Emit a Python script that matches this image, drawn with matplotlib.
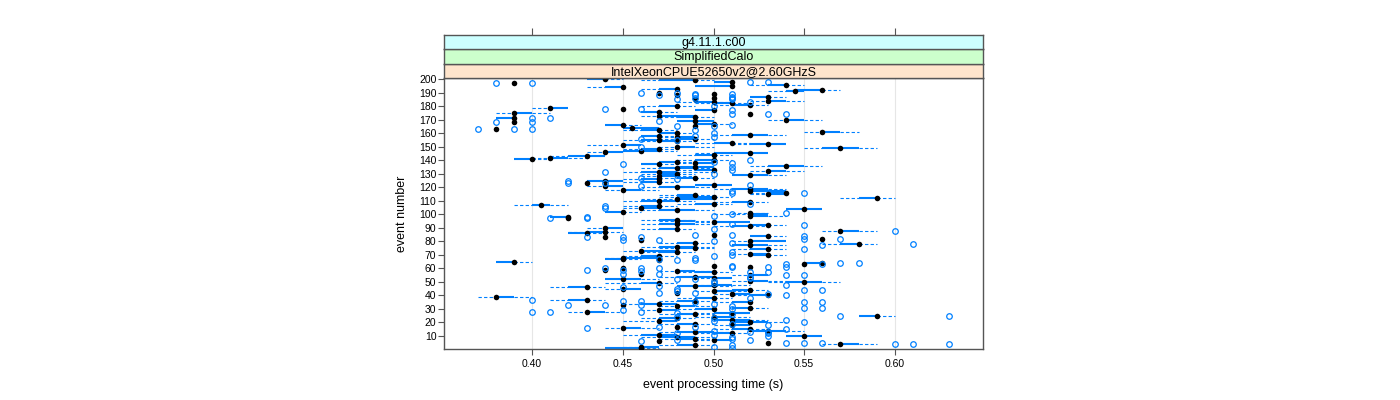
import matplotlib
matplotlib.use("Agg")
import matplotlib.pyplot as plt

plt.rcParams['font.family'] = ['Liberation Sans', 'DejaVu Sans']

# ---------------- data (seconds) ----------------
events = list(range(1, 201))

med = [.46,.46,.49,.57,.53,.47,.50,.49,.48,.55,
       .47,.51,.49,.53,.52,.45,.48,.51,.49,.52,
       .47,.51,.48,.50,.59,.49,.51,.43,.47,.50,
       .52,.48,.45,.47,.52,.49,.43,.50,.38,.53,
       .51,.48,.50,.52,.45,.43,.49,.50,.47,.55,
       .52,.45,.50,.49,.52,.46,.50,.48,.44,.45,
       .52,.50,.55,.56,.39,.47,.45,.45,.47,.53,
       .52,.48,.46,.53,.49,.48,.52,.58,.49,.52,
       .46,.56,.44,.53,.50,.43,.44,.57,.48,.44,
       .52,.53,.48,.50,.48,.48,.42,.42,.52,.52,
       .52,.45,.48,.55,.46,.47,.405,.50,.52,.47,
       .48,.59,.50,.49,.53,.54,.52,.45,.52,.48,
       .44,.50,.43,.47,.44,.47,.49,.47,.52,.48,
       .47,.53,.50,.48,.49,.54,.47,.49,.48,.50,
       .40,.41,.43,.50,.52,.44,.46,.47,.57,.48,
       .45,.53,.51,.48,.47,.49,.48,.47,.52,.48,
       .56,.47,.38,.455,.49,.45,.50,.39,.49,.54,
       .39,.49,.47,.52,.39,.47,.50,.45,.41,.48,
       .52,.51,.50,.53,.49,.50,.53,.48,.50,.47,
       .545,.56,.48,.45,.51,.54,.39,.51,.49,.44]

q1 = [.44,.46,.48,.57,.53,.47,.50,.48,.47,.54,
      .46,.50,.48,.52,.51,.45,.48,.51,.48,.51,
      .47,.50,.47,.50,.58,.48,.50,.43,.47,.49,
      .51,.48,.45,.46,.51,.48,.42,.49,.38,.52,
      .51,.48,.50,.51,.45,.42,.48,.50,.46,.54,
      .52,.44,.50,.48,.52,.46,.49,.48,.44,.45,
      .52,.50,.55,.55,.38,.47,.44,.45,.46,.52,
      .52,.47,.46,.52,.48,.47,.51,.57,.48,.52,
      .46,.56,.44,.52,.50,.42,.43,.57,.47,.44,
      .51,.52,.47,.50,.48,.47,.42,.41,.52,.52,
      .52,.44,.47,.54,.46,.46,.40,.49,.51,.46,
      .48,.58,.48,.48,.53,.53,.52,.45,.51,.47,
      .44,.49,.43,.46,.43,.46,.48,.47,.51,.47,
      .46,.53,.49,.47,.48,.53,.46,.49,.47,.49,
      .39,.41,.42,.49,.50,.44,.45,.46,.56,.48,
      .45,.52,.50,.47,.46,.48,.48,.46,.51,.47,
      .56,.46,.38,.45,.49,.44,.49,.39,.48,.54,
      .38,.48,.47,.52,.39,.46,.49,.45,.41,.47,
      .51,.50,.49,.53,.49,.50,.52,.48,.50,.47,
      .54,.545,.47,.44,.49,.53,.39,.50,.47,.43]

q3 = [.46,.47,.49,.58,.53,.47,.51,.49,.49,.56,
      .48,.51,.50,.54,.52,.46,.48,.52,.49,.53,
      .48,.52,.48,.51,.59,.49,.52,.44,.48,.50,
      .52,.49,.45,.48,.52,.49,.43,.50,.39,.53,
      .52,.48,.51,.52,.46,.43,.50,.51,.47,.56,
      .53,.46,.51,.50,.53,.46,.50,.49,.44,.45,
      .52,.50,.55,.56,.39,.47,.45,.47,.47,.53,
      .53,.48,.48,.53,.49,.49,.53,.58,.49,.54,
      .46,.56,.44,.53,.50,.43,.44,.58,.48,.45,
      .52,.53,.49,.52,.49,.48,.42,.42,.53,.53,
      .52,.45,.49,.56,.47,.47,.41,.50,.52,.48,
      .50,.59,.50,.49,.54,.54,.54,.46,.53,.49,
      .45,.51,.43,.47,.45,.47,.49,.48,.53,.48,
      .48,.54,.50,.49,.50,.55,.47,.50,.48,.50,
      .40,.42,.44,.50,.53,.45,.47,.47,.58,.49,
      .46,.54,.51,.48,.47,.49,.49,.47,.53,.48,
      .57,.47,.38,.47,.49,.45,.50,.39,.50,.55,
      .39,.49,.49,.52,.40,.47,.50,.45,.42,.48,
      .52,.51,.50,.54,.49,.50,.53,.48,.50,.47,
      .55,.56,.48,.45,.51,.54,.39,.51,.49,.44]

whisker_lo = [.44,.45,.47,.56,.53,.47,.49,.47,.46,.54,
              .45,.49,.47,.52,.50,.44,.48,.50,.47,.51,
              .45,.50,.46,.49,.58,.47,.49,.42,.46,.48,
              .51,.47,.45,.45,.50,.47,.41,.48,.37,.51,
              .50,.48,.49,.50,.44,.41,.48,.49,.44,.53,
              .51,.44,.49,.47,.51,.46,.48,.47,.44,.45,
              .52,.50,.55,.55,.38,.47,.44,.44,.45,.52,
              .51,.46,.45,.51,.47,.46,.51,.56,.47,.51,
              .46,.56,.44,.52,.50,.42,.42,.56,.46,.43,
              .50,.52,.46,.49,.47,.46,.42,.41,.52,.50,
              .51,.44,.46,.54,.45,.45,.39,.48,.50,.45,
              .46,.57,.47,.47,.52,.52,.52,.44,.50,.46,
              .43,.49,.43,.45,.43,.45,.47,.46,.51,.46,
              .45,.52,.48,.46,.47,.52,.46,.48,.47,.48,
              .39,.40,.41,.48,.49,.43,.45,.45,.55,.47,
              .43,.51,.49,.46,.45,.47,.47,.46,.50,.47,
              .55,.45,.38,.45,.49,.44,.49,.39,.48,.53,
              .38,.47,.46,.52,.38,.46,.49,.45,.40,.46,
              .50,.49,.48,.52,.49,.50,.52,.48,.50,.47,
              .53,.54,.46,.43,.49,.52,.39,.50,.46,.43]

whisker_hi = [.47,.47,.50,.59,.53,.47,.51,.50,.50,.56,
              .48,.52,.51,.55,.53,.47,.48,.52,.50,.54,
              .48,.53,.49,.52,.60,.50,.52,.45,.48,.50,
              .53,.50,.45,.48,.52,.50,.44,.51,.40,.53,
              .52,.48,.52,.53,.46,.44,.51,.52,.48,.57,
              .54,.47,.51,.50,.53,.46,.51,.50,.44,.45,
              .52,.50,.55,.56,.40,.47,.46,.47,.48,.54,
              .53,.49,.48,.54,.50,.50,.54,.59,.50,.54,
              .46,.56,.44,.54,.50,.44,.45,.59,.49,.45,
              .53,.54,.50,.52,.50,.49,.42,.42,.54,.53,
              .53,.46,.50,.56,.47,.48,.42,.51,.53,.49,
              .50,.60,.51,.50,.54,.54,.54,.47,.54,.50,
              .45,.51,.43,.48,.45,.47,.50,.49,.54,.49,
              .50,.55,.50,.50,.50,.56,.48,.50,.49,.51,
              .41,.43,.44,.51,.53,.45,.48,.48,.59,.50,
              .46,.54,.52,.49,.47,.50,.49,.48,.54,.49,
              .58,.48,.38,.47,.49,.46,.51,.39,.50,.56,
              .39,.50,.49,.52,.41,.48,.50,.45,.42,.49,
              .53,.52,.51,.55,.49,.50,.54,.48,.50,.47,
              .55,.57,.48,.45,.51,.55,.39,.51,.50,.45]

outliers = {1: [.51], 2: [.50], 3: [.51], 4: [.60, .61, .63], 5: [.54, .55, .56],
            6: [.46], 7: [.48, .52], 8: [.51], 9: [.51], 10: [.53], 11: [.50],
            12: [.48, .53], 13: [.52, .53], 14: [.50], 15: [.54], 16: [.43],
            17: [.47, .49], 18: [.53], 19: [.51], 20: [.55], 21: [.50], 22: [.54],
            23: [.50], 24: [.48], 25: [.57, .63], 26: [.51], 27: [.48],
            28: [.40, .41, .46], 29: [.45], 30: [.51], 31: [.55, .56], 32: [.51],
            33: [.42, .44, .46], 34: [.50], 35: [.49, .55, .56], 36: [.45, .46],
            37: [.40], 38: [.52], 40: [.54], 41: [.53], 42: [.47, .49], 43: [.48],
            44: [.55, .56], 45: [.48], 46: [.45], 47: [.47], 48: [.54], 49: [.50],
            51: [.50], 52: [.48, .49], 53: [.52], 54: [.52], 55: [.54, .55],
            56: [.45, .47], 57: [.52, .53], 58: [.46], 59: [.43, .45],
            60: [.44, .46, .47], 61: [.51, .53, .54], 62: [.51], 63: [.54, .56],
            64: [.57, .58], 66: [.48, .49], 67: [.47], 68: [.49], 69: [.50],
            70: [.51], 72: [.51], 74: [.55], 77: [.56], 78: [.61], 79: [.51],
            80: [.50], 81: [.45, .47], 82: [.55, .57], 83: [.43, .45, .46], 84: [.55],
            85: [.49, .51], 88: [.60], 89: [.50], 92: [.55], 93: [.51], 97: [.41, .43],
            98: [.43], 99: [.50], 100: [.51], 101: [.54], 105: [.44], 106: [.44],
            108: [.52], 116: [.51, .55], 117: [.51], 121: [.46], 122: [.52],
            123: [.42, .44], 125: [.42], 126: [.48], 127: [.46], 130: [.50], 131: [.44],
            133: [.51], 135: [.51], 137: [.45], 138: [.51], 139: [.50], 140: [.52],
            150: [.46], 155: [.48], 156: [.46], 157: [.50], 158: [.49], 160: [.50],
            162: [.49], 163: [.37, .39, .40], 165: [.48, .50], 166: [.51],
            168: [.38, .40], 169: [.47], 171: [.40, .41], 174: [.51, .53, .54],
            177: [.51], 178: [.44, .46], 180: [.50], 183: [.52], 185: [.48, .51],
            186: [.49, .51], 187: [.51], 188: [.47, .49], 189: [.49, .51],
            190: [.46, .48], 197: [.38, .40], 198: [.52, .53]}

xticks = [0.40, 0.45, 0.50, 0.55, 0.60]
xticklabels = ["0.40", "0.45", "0.50", "0.55", "0.60"]
yticks = list(range(10, 201, 10))
strip_labels = ["IntelXeonCPUE52650v2@2.60GHzS", "SimplifiedCalo", "g4.11.1.c00"]
strip_colors = ["#ffe5cc", "#ccffcc", "#ccffff"]
xlabel = "event processing time (s)"
ylabel = "event number"

# ---------------- drawing ----------------
W, H = 1400, 400
BLUE = "#0080ff"
FRAME = "#555555"
XLIM = (0.3514, 0.6486)

fig = plt.figure(figsize=(W / 100, H / 100), dpi=100)

pl, pr, pt, pb = 444, 983, 78.3, 349.0
ax = fig.add_axes([pl / W, 1 - pb / H, (pr - pl) / W, (pb - pt) / H])
ax.set_xlim(*XLIM)
ax.set_ylim(0.4, 200.6)

for x in xticks:
    ax.axvline(x, color="#e6e6e6", lw=0.8, zorder=0)

for i, e in enumerate(events):
    ax.plot([whisker_lo[i], q1[i]], [e, e], color=BLUE, lw=0.8,
            ls=(0, (3, 2)), zorder=2)
    ax.plot([q3[i], whisker_hi[i]], [e, e], color=BLUE, lw=0.8,
            ls=(0, (3, 2)), zorder=2)
    ax.plot([q1[i], q3[i]], [e, e], color=BLUE, lw=1.5, zorder=2.5,
            solid_capstyle="butt")

ax.plot(med, events, "o", color="black", ms=4.0, mew=0, zorder=3)

ox, oy = [], []
for e, vals in outliers.items():
    for v in vals:
        ox.append(v)
        oy.append(e)
ax.plot(ox, oy, "o", mfc="none", mec=BLUE, mew=0.9, ms=4.0, zorder=4)

ax.set_xticks(xticks)
ax.set_xticklabels(xticklabels)
ax.set_yticks(yticks)
ax.set_yticklabels([str(t) for t in yticks])
ax.tick_params(axis="both", direction="out", length=4, width=0.8,
               color=FRAME, labelsize=7.5, labelcolor="black")
ax.tick_params(axis="x", pad=3)
ax.tick_params(axis="y", pad=1.5)
for s in ax.spines.values():
    s.set_color(FRAME)
    s.set_linewidth(1.0)

# strips
sh = (pt - 35.0) / 3
for k, (lab, col) in enumerate(zip(strip_labels, strip_colors)):
    top = pt - sh * (k + 1)
    sax = fig.add_axes([pl / W, 1 - (top + sh) / H, (pr - pl) / W, sh / H])
    sax.set_facecolor(col)
    sax.set_xlim(*XLIM)
    sax.set_ylim(0, 1)
    sax.set_yticks([])
    for s in sax.spines.values():
        s.set_color(FRAME)
        s.set_linewidth(1.0)
    sax.text(0.5, 0.45, lab, transform=sax.transAxes, ha="center", va="center",
             fontsize=9, color="black")
    if k == len(strip_labels) - 1:
        sax.xaxis.tick_top()
        sax.set_xticks(xticks)
        sax.tick_params(axis="x", direction="out", length=5, width=0.8,
                        color=FRAME, labeltop=False, labelbottom=False)
    else:
        sax.set_xticks([])

fig.text(713 / W, 1 - 385 / H, xlabel, ha="center", va="center", fontsize=9)
fig.text(402 / W, 1 - (pt + pb) / 2 / H, ylabel, ha="center", va="center",
         rotation=90, fontsize=9)

fig.savefig("out.png", dpi=100)
